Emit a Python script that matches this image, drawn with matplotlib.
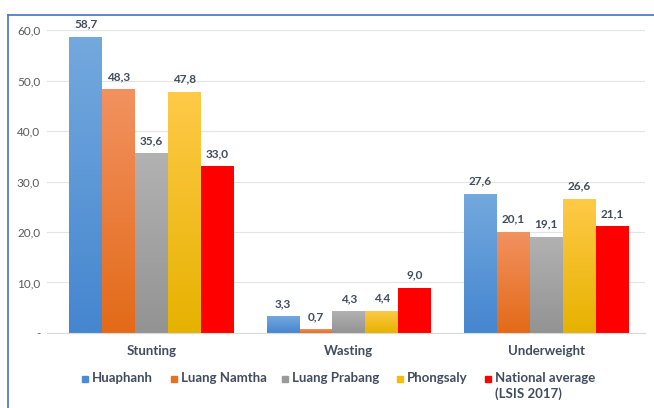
import matplotlib.pyplot as plt
import numpy as np
from matplotlib.colors import LinearSegmentedColormap
from matplotlib.lines import Line2D
from matplotlib.patches import Rectangle

plt.rcParams['font.family'] = ['Lato', 'DejaVu Sans']

categories = ['Stunting', 'Wasting', 'Underweight']
series_names = ['Huaphanh', 'Luang Namtha', 'Luang Prabang', 'Phongsaly',
                'National average\n(LSIS 2017)']
huaphanh = [58.7, 3.3, 27.6]
luang_namtha = [48.3, 0.7, 20.1]
luang_prabang = [35.6, 4.3, 19.1]
phongsaly = [47.8, 4.4, 26.6]
national = [33.0, 9.0, 21.1]
series_values = [huaphanh, luang_namtha, luang_prabang, phongsaly, national]

# (top colour, bottom colour) for each series gradient
grad_colors = [('#74a9de', '#4586cf'),
               ('#f29260', '#e36a18'),
               ('#b2b2b2', '#939393'),
               ('#ffca48', '#e6b200'),
               ('#ff0000', '#ff0000')]
legend_colors = ['#4a8bd2', '#e8701e', '#9b9b9b', '#f5be00', '#ff0000']
text_col = '#414c5e'

W, H = 654, 408
fig = plt.figure(figsize=(W / 100, H / 100), dpi=100)
ax = fig.add_axes([0.072, 0.184, 0.914, 0.742])

x = np.arange(len(categories))
width = 0.167
grad = np.linspace(1, 0, 256).reshape(-1, 1)

for i, (vals, (top, bot)) in enumerate(zip(series_values, grad_colors)):
    pos = x + (i - 2) * width
    bars = ax.bar(pos, vals, width, color='none', edgecolor='none', zorder=2)
    cmap = LinearSegmentedColormap.from_list('g%d' % i, [bot, top])
    for b, v in zip(bars, vals):
        im = ax.imshow(grad, cmap=cmap, aspect='auto', zorder=2.5,
                       extent=[b.get_x(), b.get_x() + b.get_width(), 0, v],
                       vmin=0, vmax=1, interpolation='bilinear')
        im.set_clip_path(b)
        ax.text(b.get_x() + b.get_width() / 2, v + 1.4, ('%.1f' % v).replace('.', ','),
                ha='center', va='bottom', fontsize=8.5, fontweight='bold',
                color=text_col, zorder=3)

ax.set_xlim(-0.53, 2.5)
ax.set_ylim(0, 60)
ax.set_yticks(np.arange(0, 61, 10))
ax.set_yticklabels(['-'] + [('%.1f' % v).replace('.', ',') for v in np.arange(10, 61, 10)])
ax.yaxis.grid(True, color='#e4e4e4', linewidth=0.8, zorder=0)
ax.set_axisbelow(True)
ax.set_xticks(x)
ax.set_xticklabels(categories, fontsize=9.5, fontweight='bold', color=text_col)
ax.tick_params(axis='both', length=0)
ax.tick_params(axis='y', labelsize=8.5, labelcolor='#595959', pad=5)
ax.tick_params(axis='x', pad=9)
for s in ['top', 'right', 'left']:
    ax.spines[s].set_visible(False)
ax.spines['bottom'].set_color('#d9d9d9')

# legend drawn by hand, positions in pixels
leg_x = [82, 171, 282, 397, 485]
leg_y = 379
for lx, name, c in zip(leg_x, series_names, legend_colors):
    fig.add_artist(Rectangle((lx / W, 1 - (leg_y + 3) / H), 6 / W, 6 / H,
                             transform=fig.transFigure, color=c))
    fig.text((lx + 10) / W, 1 - (leg_y - 7) / H, name, ha='left', va='top',
             fontsize=9.5, fontweight='bold', color=text_col, linespacing=1.3)

# blue frame of the original chart
fig.add_artist(Line2D([8 / W, 1], [1 - 15 / H, 1 - 15 / H], color='#4472c4', lw=1.2))
fig.add_artist(Line2D([8 / W, 8 / W], [0, 1 - 15 / H], color='#4472c4', lw=1.2))

fig.savefig('out.png', dpi=100)
